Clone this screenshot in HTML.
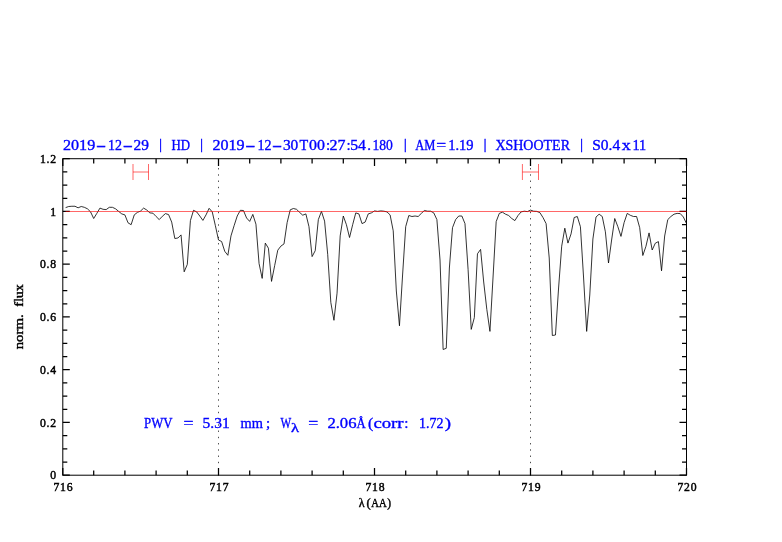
<!DOCTYPE html>
<html><head><meta charset="utf-8"><title>PWV spectrum</title>
<style>
html,body{margin:0;padding:0;background:#fff}
svg{display:block}
.t{font-family:"Liberation Serif",serif;font-size:11.7px;fill:#000;stroke:#000;stroke-width:.45px;letter-spacing:.75px}
.s{font-family:"Liberation Serif",serif;font-size:11.5px;fill:#000;stroke:#000;stroke-width:.4px}
.b{font-family:"Liberation Serif",serif;font-size:15px;fill:#00f;stroke:#00f;stroke-width:.35px}
</style></head><body>
<svg width="782" height="542" viewBox="0 0 782 542">
<rect width="782" height="542" fill="#fff"/>
<line x1="218.50" y1="475.70" x2="218.50" y2="158.70" stroke="#000" stroke-width=".7" stroke-dasharray="1.4 4.85"/>
<line x1="530.50" y1="475.70" x2="530.50" y2="158.70" stroke="#000" stroke-width=".7" stroke-dasharray="1.4 4.85"/>
<polyline fill="none" stroke="#000" stroke-width=".8" stroke-linejoin="round" points="65.62,207.60 68.74,206.50 71.86,206.25 74.98,206.25 78.10,207.80 81.22,206.50 84.34,207.30 87.46,208.80 90.58,211.90 93.70,218.50 96.82,213.40 99.94,208.10 103.06,209.30 106.18,209.60 109.30,207.30 112.42,207.30 115.54,208.80 118.66,211.40 121.78,213.90 124.90,214.90 128.02,222.80 131.14,224.70 134.26,214.90 137.38,212.40 140.50,211.10 143.62,208.10 146.74,210.00 149.86,212.90 152.98,213.20 156.10,216.50 159.22,219.60 162.34,216.30 165.46,213.60 168.58,214.60 171.70,222.10 174.82,238.50 177.94,238.00 181.06,234.90 184.18,271.80 187.30,264.40 190.42,220.60 193.54,210.30 196.66,211.90 199.78,216.00 202.90,220.40 206.02,214.90 209.14,208.30 212.26,211.90 215.38,225.70 218.50,240.00 221.62,241.50 224.74,251.30 227.86,255.30 230.98,235.90 234.10,225.70 237.22,216.00 240.34,210.30 243.46,210.50 246.58,218.00 249.70,221.40 252.82,214.40 255.94,224.20 259.06,263.50 262.18,278.40 265.30,243.10 268.42,248.20 271.54,281.40 274.66,265.60 277.78,250.20 280.90,246.10 284.02,243.90 287.14,222.60 290.26,209.80 293.38,208.50 296.50,209.30 299.62,212.40 302.74,215.20 305.86,213.90 308.98,226.70 312.10,256.60 315.22,250.70 318.34,219.60 321.46,211.40 324.58,221.10 327.70,254.30 330.82,302.40 333.94,320.30 337.06,293.20 340.18,235.90 343.30,216.00 346.42,224.70 349.54,237.50 352.66,224.70 355.78,212.90 358.90,213.90 362.02,223.60 365.14,222.10 368.26,213.90 371.38,212.90 374.50,210.90 377.62,211.40 380.74,210.90 383.86,211.20 386.98,211.90 390.10,214.90 393.22,230.80 396.34,291.00 399.46,325.80 402.58,275.00 405.70,226.70 408.82,215.50 411.94,216.50 415.06,216.00 418.18,216.50 421.30,213.40 424.42,210.50 427.54,211.20 430.66,211.20 433.78,212.90 436.90,219.60 440.02,260.00 443.14,349.50 446.26,348.30 449.38,268.00 452.50,227.70 455.62,219.60 458.74,216.00 461.86,216.00 464.98,223.60 468.10,269.70 471.22,329.40 474.34,317.60 477.46,253.80 480.58,249.40 483.70,282.00 486.82,309.40 489.94,331.40 493.06,277.00 496.18,221.60 499.30,213.40 502.42,212.20 505.54,214.20 508.66,215.50 511.78,218.50 514.90,220.60 518.02,215.50 521.14,211.90 524.26,211.20 527.38,211.60 530.50,210.10 533.62,211.20 536.74,211.40 539.86,212.60 542.98,217.50 546.10,223.60 549.22,258.00 552.34,335.50 555.46,335.00 558.58,288.00 561.70,246.20 564.82,228.20 567.94,243.10 571.06,233.90 574.18,217.50 577.30,216.50 580.42,226.70 583.54,277.00 586.66,331.40 589.78,295.00 592.90,239.00 596.02,217.00 599.14,214.20 602.26,216.50 605.38,231.80 608.50,263.00 611.62,240.00 614.74,218.50 617.86,226.70 620.98,236.40 624.10,222.60 627.22,213.40 630.34,215.30 633.46,216.50 636.58,216.50 639.70,227.70 642.82,255.50 645.94,246.30 649.06,232.90 652.18,250.00 655.30,243.20 658.42,241.60 661.54,270.80 664.66,236.00 667.78,219.60 670.90,216.50 674.02,214.20 677.14,213.40 680.26,213.60 683.38,217.00 686.50,223.60"/>
<path d="M133.0 164V180M148.5 164V180M133.0 172H148.5" stroke="#f00" stroke-width=".6" fill="none"/>
<path d="M522.4 164V180M538.5 164V180M522.4 172H538.5" stroke="#f00" stroke-width=".6" fill="none"/>
<rect x="62.80" y="158.70" width="623.70" height="316.50" fill="none" stroke="#000" stroke-width="1"/>
<path d="M62.80 158.70v7.2M62.80 475.20v-7.2M93.70 158.70v4.7M93.70 475.20v-4.7M124.90 158.70v4.7M124.90 475.20v-4.7M156.10 158.70v4.7M156.10 475.20v-4.7M187.30 158.70v4.7M187.30 475.20v-4.7M218.50 158.70v7.2M218.50 475.20v-7.2M249.70 158.70v4.7M249.70 475.20v-4.7M280.90 158.70v4.7M280.90 475.20v-4.7M312.10 158.70v4.7M312.10 475.20v-4.7M343.30 158.70v4.7M343.30 475.20v-4.7M374.50 158.70v7.2M374.50 475.20v-7.2M405.70 158.70v4.7M405.70 475.20v-4.7M436.90 158.70v4.7M436.90 475.20v-4.7M468.10 158.70v4.7M468.10 475.20v-4.7M499.30 158.70v4.7M499.30 475.20v-4.7M530.50 158.70v7.2M530.50 475.20v-7.2M561.70 158.70v4.7M561.70 475.20v-4.7M592.90 158.70v4.7M592.90 475.20v-4.7M624.10 158.70v4.7M624.10 475.20v-4.7M655.30 158.70v4.7M655.30 475.20v-4.7M686.50 158.70v7.2M686.50 475.20v-7.2M62.80 475.20h7.0M686.50 475.20h-7.0M62.80 462.01h4.5M686.50 462.01h-4.5M62.80 448.82h4.5M686.50 448.82h-4.5M62.80 435.64h4.5M686.50 435.64h-4.5M62.80 422.45h7.0M686.50 422.45h-7.0M62.80 409.26h4.5M686.50 409.26h-4.5M62.80 396.07h4.5M686.50 396.07h-4.5M62.80 382.89h4.5M686.50 382.89h-4.5M62.80 369.70h7.0M686.50 369.70h-7.0M62.80 356.51h4.5M686.50 356.51h-4.5M62.80 343.32h4.5M686.50 343.32h-4.5M62.80 330.14h4.5M686.50 330.14h-4.5M62.80 316.95h7.0M686.50 316.95h-7.0M62.80 303.76h4.5M686.50 303.76h-4.5M62.80 290.57h4.5M686.50 290.57h-4.5M62.80 277.39h4.5M686.50 277.39h-4.5M62.80 264.20h7.0M686.50 264.20h-7.0M62.80 251.01h4.5M686.50 251.01h-4.5M62.80 237.82h4.5M686.50 237.82h-4.5M62.80 224.64h4.5M686.50 224.64h-4.5M62.80 211.45h7.0M686.50 211.45h-7.0M62.80 198.26h4.5M686.50 198.26h-4.5M62.80 185.07h4.5M686.50 185.07h-4.5M62.80 171.89h4.5M686.50 171.89h-4.5M62.80 158.70h7.0M686.50 158.70h-7.0" fill="none" stroke="#000" stroke-width="1.25"/>
<line x1="65.62" y1="211.50" x2="686.50" y2="211.50" stroke="#f00" stroke-width=".6"/>
<text class="t" x="63.4" y="490.5" text-anchor="middle">716</text>
<text class="t" x="219.4" y="490.5" text-anchor="middle">717</text>
<text class="t" x="375.4" y="490.5" text-anchor="middle">718</text>
<text class="t" x="531.4" y="490.5" text-anchor="middle">719</text>
<text class="t" x="687.4" y="490.5" text-anchor="middle">720</text>
<text class="t" x="56.8" y="479.4" text-anchor="end">0</text>
<text class="t" x="56.8" y="426.6" text-anchor="end">0.2</text>
<text class="t" x="56.8" y="373.9" text-anchor="end">0.4</text>
<text class="t" x="56.8" y="321.1" text-anchor="end">0.6</text>
<text class="t" x="56.8" y="268.4" text-anchor="end">0.8</text>
<text class="t" x="56.8" y="215.7" text-anchor="end">1</text>
<text class="t" x="56.8" y="162.9" text-anchor="end">1.2</text>
<text class="b"><tspan x="63.0" y="150.4" textLength="32.2" lengthAdjust="spacingAndGlyphs">2019</tspan><tspan x="95.9" y="150.4" textLength="10.1" lengthAdjust="spacingAndGlyphs">-</tspan><tspan x="108.0" y="150.4" textLength="14.0" lengthAdjust="spacingAndGlyphs">12</tspan><tspan x="122.7" y="150.4" textLength="10.1" lengthAdjust="spacingAndGlyphs">-</tspan><tspan x="133.5" y="150.4" textLength="15.4" lengthAdjust="spacingAndGlyphs">29</tspan> <tspan x="159.0" y="149.3" style="font-size:15.6px">|</tspan> <tspan x="171.4" y="150.4" textLength="18.6" lengthAdjust="spacingAndGlyphs">HD</tspan> <tspan x="199.9" y="149.3" style="font-size:15.6px">|</tspan> <tspan x="212.4" y="150.4" textLength="32.2" lengthAdjust="spacingAndGlyphs">2019</tspan><tspan x="245.3" y="150.4" textLength="10.1" lengthAdjust="spacingAndGlyphs">-</tspan><tspan x="257.4" y="150.4" textLength="14.0" lengthAdjust="spacingAndGlyphs">12</tspan><tspan x="272.1" y="150.4" textLength="10.1" lengthAdjust="spacingAndGlyphs">-</tspan><tspan x="282.9" y="150.4" textLength="15.4" lengthAdjust="spacingAndGlyphs">30</tspan><tspan x="299.6" y="150.4" textLength="8.7" lengthAdjust="spacingAndGlyphs">T</tspan><tspan x="309.1" y="150.4" textLength="15.9" lengthAdjust="spacingAndGlyphs">00</tspan><tspan x="326.0" y="150.4">:</tspan><tspan x="329.5" y="150.4" textLength="16.0" lengthAdjust="spacingAndGlyphs">27</tspan><tspan x="346.5" y="150.4">:</tspan><tspan x="350.2" y="150.4" textLength="15.8" lengthAdjust="spacingAndGlyphs">54</tspan><tspan x="367.2" y="150.4">.</tspan><tspan x="372.4" y="150.4" textLength="20.4" lengthAdjust="spacingAndGlyphs">180</tspan> <tspan x="403.8" y="149.3" style="font-size:15.6px">|</tspan> <tspan x="415.3" y="150.4" textLength="20.1" lengthAdjust="spacingAndGlyphs">AM</tspan><tspan x="436.3" y="150.4" textLength="9.9" lengthAdjust="spacingAndGlyphs">=</tspan><tspan x="448.2" y="150.4" textLength="25.4" lengthAdjust="spacingAndGlyphs">1.19</tspan> <tspan x="483.6" y="149.3" style="font-size:15.6px">|</tspan> <tspan x="495.4" y="150.4" textLength="74.6" lengthAdjust="spacingAndGlyphs">XSHOOTER</tspan> <tspan x="580.0" y="149.3" style="font-size:15.6px">|</tspan> <tspan x="592.2" y="150.4" textLength="28.0" lengthAdjust="spacingAndGlyphs">S0.4</tspan><tspan x="621.8" y="150.4" textLength="9.0" lengthAdjust="spacingAndGlyphs">x</tspan><tspan x="632.4" y="150.4" textLength="13.8" lengthAdjust="spacingAndGlyphs">11</tspan></text>
<text class="b"><tspan x="144.1" y="427.8" textLength="28.2" lengthAdjust="spacingAndGlyphs">PWV</tspan> <tspan x="183.6" y="427.8" textLength="10.0" lengthAdjust="spacingAndGlyphs">=</tspan> <tspan x="202.6" y="427.8" textLength="27.2" lengthAdjust="spacingAndGlyphs">5.31</tspan> <tspan x="240.6" y="427.8" textLength="22.4" lengthAdjust="spacingAndGlyphs">mm</tspan><tspan x="266.0" y="427.8">;</tspan> <tspan x="280.5" y="427.8" textLength="10.7" lengthAdjust="spacingAndGlyphs">W</tspan><tspan x="291.0" y="431.7" textLength="8.0" lengthAdjust="spacingAndGlyphs" style="font-size:12.5px">λ</tspan> <tspan x="308.2" y="427.8" textLength="10.0" lengthAdjust="spacingAndGlyphs">=</tspan> <tspan x="327.4" y="427.8" textLength="29.1" lengthAdjust="spacingAndGlyphs">2.06</tspan><tspan x="356.4" y="427.8" textLength="9.2" lengthAdjust="spacingAndGlyphs">Å</tspan><tspan x="367.9" y="427.8" textLength="5.3" lengthAdjust="spacingAndGlyphs">(</tspan><tspan x="373.4" y="427.8" textLength="30.2" lengthAdjust="spacingAndGlyphs">corr</tspan><tspan x="404.2" y="427.8">:</tspan> <tspan x="419.0" y="427.8" textLength="24.5" lengthAdjust="spacingAndGlyphs">1.72</tspan><tspan x="444.7" y="427.8" textLength="6.3" lengthAdjust="spacingAndGlyphs">)</tspan></text>
<text class="s"><tspan x="358.8" y="506.7" textLength="5.8" lengthAdjust="spacingAndGlyphs">λ</tspan><tspan x="366.4" y="506.7" textLength="4.2" lengthAdjust="spacingAndGlyphs">(</tspan><tspan x="371.2" y="506.7" textLength="15.4" lengthAdjust="spacingAndGlyphs">AA</tspan><tspan x="387.2" y="506.7" textLength="3.8" lengthAdjust="spacingAndGlyphs">)</tspan></text>
<text class="s" transform="translate(23.2 349.3) rotate(-90)"><tspan x="0" textLength="34.9" lengthAdjust="spacingAndGlyphs">norm.</tspan> <tspan x="42.5" textLength="22.7" lengthAdjust="spacingAndGlyphs">flux</tspan></text>
</svg>
</body></html>
